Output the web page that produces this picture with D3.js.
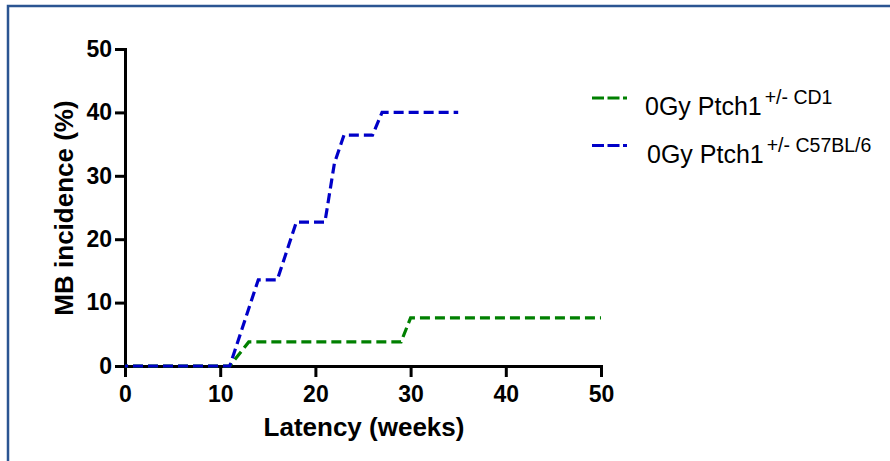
<!DOCTYPE html>
<html lang="en">
<head>
  <meta charset="UTF-8">
  <title>MB incidence</title>
  <script src="https://cdn.jsdelivr.net/npm/d3@7"></script>
  <style>
    html, body { margin: 0; padding: 0; background: #fff; }
    svg { display: block; font-family: "Liberation Sans", Arial, sans-serif; }
    .axis path, .axis line { stroke: #000; stroke-width: 3px; }
    .axis text { font-size: 23px; font-weight: bold; fill: #000; }
    .title { font-size: 26px; font-weight: bold; }
  </style>
</head>
<body>
  <svg width="890" height="461"></svg>
  <script>
    // data
    const weeksCD1 = [0, 11, 13, 29, 30, 50]
    const incidenceCD1 = [0, 0, 3.8, 3.8, 7.6, 7.6]
    const weeksB6 = [0, 11, 14, 16, 18, 21, 22, 23, 26, 27, 35]
    const incidenceB6 = [0, 0, 13.6, 13.6, 22.7, 22.7, 32, 36.4, 36.4, 40, 40]
    const xTicks = [0, 10, 20, 30, 40, 50]
    const yTicks = [0, 10, 20, 30, 40, 50]

    const series = [
      { main: '0Gy Ptch1', sup: '+/- CD1', color: '#008000', x: weeksCD1, y: incidenceCD1 },
      { main: '0Gy Ptch1', sup: '+/- C57BL/6', color: '#0000c8', x: weeksB6, y: incidenceB6 }
    ]

    const svg = d3.select('svg')

    // frame (only top and left edges show)
    svg.append('rect')
      .attr('x', 8).attr('y', 6)
      .attr('width', 1000).attr('height', 1000)
      .attr('fill', 'none')
      .attr('stroke', '#2b5592')
      .attr('stroke-width', 2.5)

    const xScale = d3.scaleLinear().domain([0, 50]).range([125, 601])
    const yScale = d3.scaleLinear().domain([0, 50]).range([366, 49])

    svg.append('g')
      .attr('class', 'axis')
      .attr('transform', `translate(0, ${yScale(0)})`)
      .call(d3.axisBottom(xScale).tickValues(xTicks).tickSize(11).tickSizeOuter(0).tickPadding(9))

    svg.append('g')
      .attr('class', 'axis')
      .attr('transform', `translate(${xScale(0)}, 0)`)
      .call(d3.axisLeft(yScale).tickValues(yTicks).tickSize(10).tickSizeOuter(0).tickPadding(3))

    svg.selectAll('.axis .domain').attr('stroke-linecap', 'square')

    const line = d3.line()
      .x(d => xScale(d[0]))
      .y(d => yScale(d[1]))

    svg.selectAll('.series')
      .data(series)
      .enter()
      .append('path')
      .attr('class', 'series')
      .attr('d', s => line(s.x.map((w, i) => [w, s.y[i]])))
      .attr('fill', 'none')
      .attr('stroke', s => s.color)
      .attr('stroke-width', 3.2)
      .attr('stroke-dasharray', '10,5')
      .attr('stroke-dashoffset', 7)

    // axis titles
    svg.append('text')
      .attr('class', 'title')
      .attr('x', 364)
      .attr('y', 436)
      .attr('text-anchor', 'middle')
      .text('Latency (weeks)')

    svg.append('text')
      .attr('class', 'title')
      .attr('transform', 'translate(73, 208) rotate(-90)')
      .attr('text-anchor', 'middle')
      .text('MB incidence (%)')

    // legend
    const legend = svg.selectAll('.legend')
      .data(series)
      .enter()
      .append('g')
      .attr('class', 'legend')
      .attr('transform', (s, i) => `translate(0, ${98 + i * 47.5})`)

    legend.append('line')
      .attr('x1', 592).attr('x2', 627)
      .attr('y1', 0).attr('y2', 0)
      .attr('stroke', s => s.color)
      .attr('stroke-width', 3)
      .attr('stroke-dasharray', '12,3.5')

    const label = legend.append('text')
      .attr('x', (s, i) => 645 + i * 2)
      .attr('y', 17)
      .attr('font-size', 25)
      .attr('fill', '#000')

    label.append('tspan').text(s => s.main)
    label.append('tspan')
      .attr('dx', 3)
      .attr('dy', -11)
      .attr('font-size', 19.5)
      .text(s => s.sup)
  </script>
</body>
</html>
